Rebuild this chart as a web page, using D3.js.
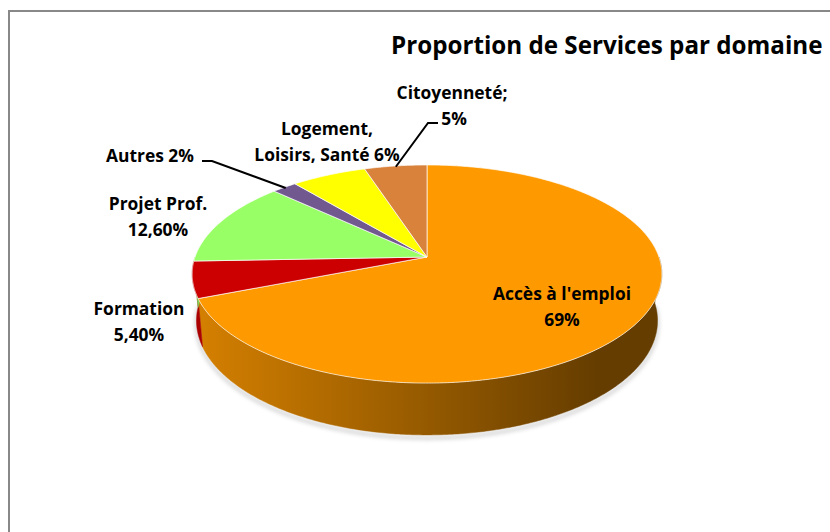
<!DOCTYPE html>
<html>
<head>
<meta charset="utf-8">
<script src="https://cdn.jsdelivr.net/npm/d3@7/dist/d3.min.js"></script>
<style>
  body { margin: 0; background: #fff; }
  text { font-family: "Open Sans", Lato, sans-serif; font-weight: 700; fill: #000; }
</style>
</head>
<body>
<div id="chart-area"></div>
<script>
// data
var categories = ["Accès à l'emploi", "Formation", "Projet Prof.", "Autres", "Logement, Loisirs, Santé", "Citoyenneté"];
var values = [69, 5.4, 12.6, 2, 6, 5];
var valueLabels = ["69%", "5,40%", "12,60%", "2%", "6%", "5%"];
var labelLines = [
  ["Accès à l'emploi", "69%"],
  ["Formation", "5,40%"],
  ["Projet Prof.", "12,60%"],
  ["Autres 2%"],
  ["Logement,", "Loisirs, Santé 6%"],
  ["Citoyenneté;", "5%"]
];
var colors = ["#ff9900", "#cc0000", "#99ff66", "#71588f", "#ffff00", "#d9823c"];

var outerWidth = 830;
var outerHeight = 532;

// label layout (centre x, first baseline y), leader start for outside labels
var labelLayout = [
  {x: 562, y: 300},
  {x: 139, y: 315},
  {x: 158, y: 210},
  {x: 150, y: 162, leader: [202, 161, 212, 161]},
  {x: 327, y: 135},
  {x: 452, y: 99, leader: [438, 123, 428, 123]}
];

// 3d projection of the pie (perspective, tilted)
var cx = 427, cy = 257, focal = 1320, dist = 5.69;
var tilt = 27.3 * Math.PI / 180;
var thick = 0.228;
var cosT = Math.cos(tilt), sinT = Math.sin(tilt);

function proj(theta, r, y) {
  var X = r * Math.sin(theta), Z = r * Math.cos(theta), Y = y;
  var yc = Y * cosT + Z * sinT;
  var zc = Z * cosT - Y * sinT;
  return [cx + focal * X / (dist + zc), cy - focal * yc / (dist + zc)];
}

function rim(a0, a1, y) {
  var n = Math.max(2, Math.ceil((a1 - a0) / 0.01));
  return d3.range(n + 1).map(function(i) { return proj(a0 + (a1 - a0) * i / n, 1, y); });
}

var svg = d3.select('#chart-area').append('svg')
            .attr('width', outerWidth)
            .attr('height', outerHeight);

var defs = svg.append('defs');
defs.append('filter').attr('id', 'shadow')
    .attr('x', '-10%').attr('y', '-10%').attr('width', '120%').attr('height', '130%')
    .append('feGaussianBlur').attr('stdDeviation', 2);

// outer frame
svg.append('rect')
   .attr('x', 9).attr('y', 11)
   .attr('width', 900).attr('height', 600)
   .attr('fill', 'none')
   .attr('stroke', '#888')
   .attr('stroke-width', 2);

// title
svg.append('text')
   .attr('x', 391).attr('y', 54)
   .attr('font-size', '24.2px')
   .text('Proportion de Services par domaine');

var pie = d3.pie().sort(null).startAngle(0).endAngle(2 * Math.PI);
var arcs = pie(values);

var line = d3.line();
var g = svg.append('g');

// wall gradients, one per slice
var leftX = proj(-Math.PI / 2, 1, 0)[0], rightX = proj(Math.PI / 2, 1, 0)[0];
arcs.forEach(function(d, i) {
  var c = d3.color(colors[i]);
  var grad = defs.append('linearGradient')
     .attr('id', 'wall' + i)
     .attr('gradientUnits', 'userSpaceOnUse')
     .attr('x1', leftX).attr('x2', rightX).attr('y1', 0).attr('y2', 0);
  grad.append('stop').attr('offset', '0%').attr('stop-color', c.darker(0.5));
  grad.append('stop').attr('offset', '87%').attr('stop-color', c.darker(2.6));
  grad.append('stop').attr('offset', '100%').attr('stop-color', c.darker(2.6));
});

// side walls (front half only)
var walls = [];
arcs.forEach(function(d, i) {
  var a0 = Math.max(d.startAngle, Math.PI / 2), a1 = Math.min(d.endAngle, 3 * Math.PI / 2);
  if (a1 > a0) walls.push({i: i, a0: a0, a1: a1});
});

// soft shadow under the pie
var front = rim(Math.PI / 2, 3 * Math.PI / 2, -thick);
g.append('path')
 .attr('d', line(front.map(function(p) { return [p[0], p[1] + 3]; })))
 .attr('fill', 'none')
 .attr('stroke', '#999')
 .attr('stroke-width', 3)
 .attr('opacity', 0.5)
 .attr('filter', 'url(#shadow)');

g.selectAll('.wall')
 .data(walls)
 .enter().append('path')
 .attr('class', 'wall')
 .attr('d', function(w) {
   var top = rim(w.a0, w.a1, 0), bot = rim(w.a0, w.a1, -thick).reverse();
   return line(top.concat(bot)) + 'Z';
 })
 .attr('fill', function(w) { return 'url(#wall' + w.i + ')'; })
 .attr('stroke', function(w) { return 'url(#wall' + w.i + ')'; })
 .attr('stroke-width', 0.5);

// top faces
g.selectAll('.slice')
 .data(arcs)
 .enter().append('path')
 .attr('class', 'slice')
 .attr('d', function(d) {
   return line([proj(0, 0, 0)].concat(rim(d.startAngle, d.endAngle, 0))) + 'Z';
 })
 .attr('fill', function(d, i) { return colors[i]; })
 .attr('stroke', '#fff')
 .attr('stroke-opacity', 0.85)
 .attr('stroke-width', 0.8)
 .attr('stroke-linejoin', 'round');

// leader lines
arcs.forEach(function(d, i) {
  var lay = labelLayout[i];
  if (!lay.leader) return;
  var mid = (d.startAngle + d.endAngle) / 2;
  var end = proj(mid, 0.99, 0);
  svg.append('path')
     .attr('d', line([[lay.leader[0], lay.leader[1]], [lay.leader[2], lay.leader[3]], end]))
     .attr('fill', 'none')
     .attr('stroke', '#000')
     .attr('stroke-width', 2);
});

// labels
var lab = svg.selectAll('.label')
  .data(arcs)
  .enter().append('text')
  .attr('class', 'label')
  .attr('font-size', '17.4px')
  .attr('text-anchor', 'middle');

lab.each(function(d, i) {
  var lay = labelLayout[i];
  var t = d3.select(this);
  labelLines[i].forEach(function(s, k) {
    t.append('tspan')
     .attr('x', i === 5 && k === 1 ? 454 : lay.x)
     .attr('y', lay.y + k * 25.5)
     .text(s);
  });
});
</script>
</body>
</html>
